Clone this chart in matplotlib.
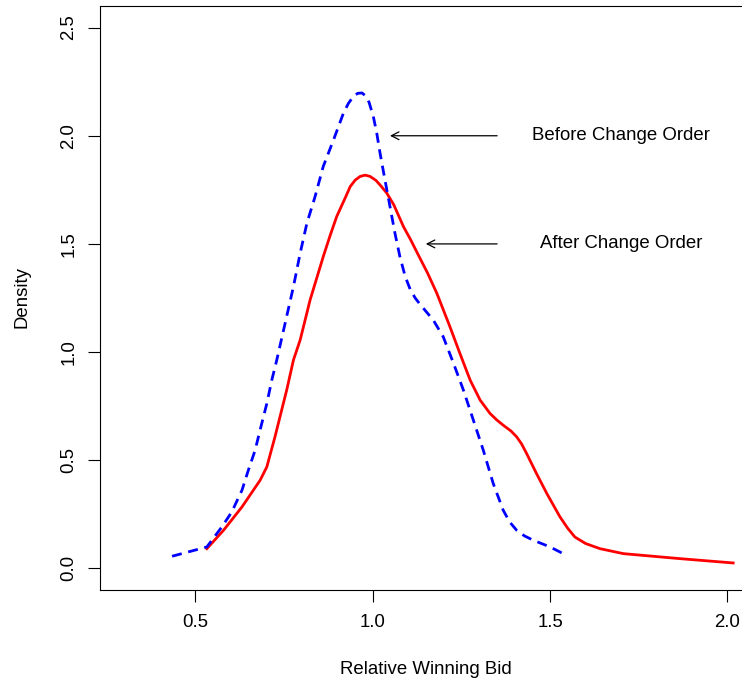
import numpy as np
import matplotlib
matplotlib.use("Agg")
import matplotlib.pyplot as plt

plt.rcParams['font.family'] = ['Liberation Sans', 'DejaVu Sans']

# density estimate of relative winning bid, before the change order
before_x = [0.435, 0.533, 0.575, 0.603, 0.632, 0.650, 0.669, 0.683, 0.702, 0.716,
            0.730, 0.749, 0.777, 0.796, 0.815, 0.838, 0.861, 0.890, 0.918, 0.932,
            0.946, 0.958, 0.970, 0.980, 0.990, 1.002, 1.012, 1.021, 1.035, 1.049,
            1.063, 1.077, 1.092, 1.106, 1.120, 1.134, 1.152, 1.171, 1.199,
            1.228, 1.256, 1.284, 1.312, 1.340, 1.368, 1.386, 1.406, 1.428, 1.453,
            1.500, 1.542]
before_y = [0.056, 0.099, 0.191, 0.260, 0.361, 0.454, 0.546, 0.639, 0.762, 0.870,
            0.963, 1.100, 1.302, 1.457, 1.596, 1.719, 1.858, 1.981, 2.105, 2.150,
            2.182, 2.196, 2.198, 2.185, 2.155, 2.090, 2.010, 1.920, 1.795, 1.673,
            1.550, 1.441, 1.349, 1.290, 1.250, 1.220, 1.185, 1.148, 1.071,
            0.948, 0.824, 0.685, 0.546, 0.392, 0.269, 0.215, 0.176, 0.150, 0.130,
            0.099, 0.064]

# density estimate after the change order
after_x = [0.533, 0.580, 0.632, 0.683, 0.702, 0.725, 0.739, 0.758, 0.777, 0.796,
           0.824, 0.861, 0.880, 0.899, 0.923, 0.937, 0.951, 0.965, 0.979, 0.993,
           1.010, 1.025, 1.040, 1.060, 1.087, 1.107, 1.127, 1.155,
           1.181, 1.218, 1.246, 1.275, 1.303, 1.331, 1.350, 1.368, 1.390, 1.406,
           1.420, 1.434, 1.462, 1.491, 1.528, 1.550, 1.570, 1.600, 1.641, 1.707,
           1.866, 2.016]
after_y = [0.091, 0.176, 0.284, 0.407, 0.469, 0.608, 0.700, 0.824, 0.963, 1.056,
           1.241, 1.441, 1.537, 1.627, 1.713, 1.765, 1.795, 1.812, 1.818, 1.812,
           1.793, 1.765, 1.735, 1.680, 1.580, 1.520, 1.455, 1.365,
           1.272, 1.117, 0.994, 0.870, 0.778, 0.716, 0.686, 0.662, 0.635, 0.608,
           0.575, 0.531, 0.438, 0.346, 0.238, 0.185, 0.145, 0.115, 0.091, 0.068,
           0.045, 0.025]

x_ticks = [0.5, 1.0, 1.5, 2.0]
y_ticks = [0.0, 0.5, 1.0, 1.5, 2.0, 2.5]

fs = 13.4
fig = plt.figure(figsize=(7.42, 6.83), dpi=100)
ax = fig.add_axes([0.13477, 0.13616, 0.8782, 0.8551])

ax.plot(after_x, after_y, color='#ff0000', lw=2.0, solid_joinstyle='round')
ax.plot(before_x, before_y, color='#0000ff', lw=2.0, dashes=(3.6, 2.4),
        dash_joinstyle='round')

ax.set_xlim(0.232, 2.068)
ax.set_ylim(-0.1, 2.6)
ax.set_xticks(x_ticks)
ax.set_xticklabels([f"{t:.1f}" for t in x_ticks])
ax.set_yticks(y_ticks)
ax.set_yticklabels([f"{t:.1f}" for t in y_ticks], rotation=90, va='center')

for s in ax.spines.values():
    s.set_linewidth(0.8)
ax.tick_params(axis='both', length=8.3, width=0.8, labelsize=fs, color='black')
ax.tick_params(axis='x', pad=9)
ax.tick_params(axis='y', pad=8)

# labels pointing at the two curves
arrow = dict(arrowstyle='->,head_length=0.55,head_width=0.28', color='black', lw=0.9,
             shrinkA=0, shrinkB=0)
ax.annotate('', xy=(1.049, 2.0), xytext=(1.351, 2.0), arrowprops=arrow)
ax.annotate('', xy=(1.150, 1.5), xytext=(1.351, 1.5), arrowprops=arrow)
ax.text(1.70, 2.0, 'Before Change Order', ha='center', va='center', fontsize=fs)
ax.text(1.70, 1.5, 'After Change Order', ha='center', va='center', fontsize=fs)

fig.text(426 / 742, 1 - 670 / 683, 'Relative Winning Bid', ha='center', va='center', fontsize=fs)
fig.text(22 / 742, 1 - 297 / 683, 'Density', ha='center', va='center', rotation=90, fontsize=fs)

fig.savefig('out.png', dpi=100)
